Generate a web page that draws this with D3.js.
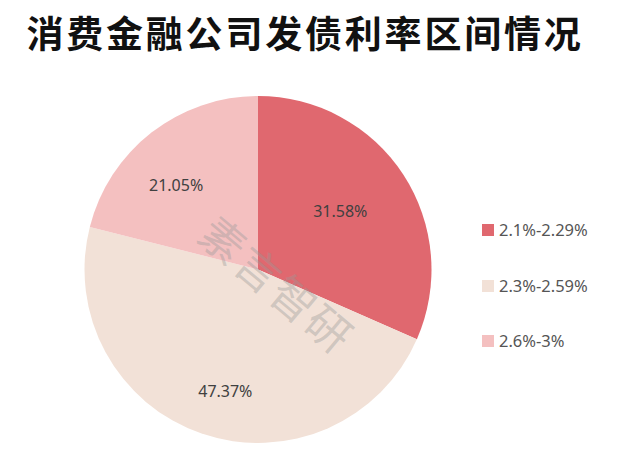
<!DOCTYPE html>
<html><head><meta charset="utf-8">
<script src="https://cdn.jsdelivr.net/npm/d3@7"></script>
<style>body{margin:0;background:#fff;}svg{display:block;}</style>
</head><body>
<svg id="chart" width="634" height="460"></svg>
<script>
const title = "消费金融公司发债利率区间情况";
const categories = ["2.1%-2.29%", "2.3%-2.59%", "2.6%-3%"];
const values = [31.58, 47.37, 21.05];
const labels = ["31.58%", "47.37%", "21.05%"];
const colors = ["#e0686f", "#f2e1d7", "#f4c0c0"];

const svg = d3.select("#chart");
const cx = 258, cy = 269.5, R = 173.5;
const labelRadiusFactor = [0.58, 0.73, 0.675];
const labelAngleShift = [-2, -4, -6.5]; // degrees

svg.append("text").attr("x", 305).attr("y", 48).attr("text-anchor", "middle")
  .attr("font-family", "Noto Sans CJK SC").attr("font-weight", "bold")
  .attr("font-size", 37).attr("letter-spacing", 2.8).attr("fill", "#111").text(title);

const pie = d3.pie().sort(null).value(d => d)(values);
const arc = d3.arc().innerRadius(0).outerRadius(R);
const g = svg.append("g").attr("transform", `translate(${cx},${cy})`);
g.selectAll("path").data(pie).join("path").attr("d", arc).attr("fill", (d, i) => colors[i]);
g.selectAll("text.lbl").data(pie).join("text").attr("class", "lbl")
  .attr("transform", (d, i) => {
    const r = R * labelRadiusFactor[i];
    const a = (d.startAngle + d.endAngle) / 2 + labelAngleShift[i] * Math.PI / 180;
    return `translate(${r * Math.sin(a)},${-r * Math.cos(a)})`;
  })
  .attr("text-anchor", "middle").attr("dy", "0.35em")
  .attr("font-family", "Noto Sans").attr("font-size", 16).attr("fill", "#404040")
  .text((d, i) => labels[i]);

// watermark
svg.append("text").attr("transform", "translate(276,286) rotate(40)")
  .attr("text-anchor", "middle").attr("dy", "0.35em")
  .attr("font-family", "Noto Sans CJK SC").attr("font-size", 44).attr("letter-spacing", 2)
  .attr("fill", "#999").attr("fill-opacity", 0.4).text("素言智研");

const lg = svg.append("g");
const rowY = d3.scaleOrdinal().domain(categories).range([230, 286, 341]);
categories.forEach((c, i) => {
  lg.append("rect").attr("x", 482).attr("y", rowY(c) - 6).attr("width", 12).attr("height", 12).attr("fill", colors[i]);
  lg.append("text").attr("x", 499).attr("y", rowY(c)).attr("dy", "0.35em")
    .attr("font-family", "Noto Sans").attr("font-size", 16.5).attr("fill", "#555").text(c);
});
</script>
</body></html>
